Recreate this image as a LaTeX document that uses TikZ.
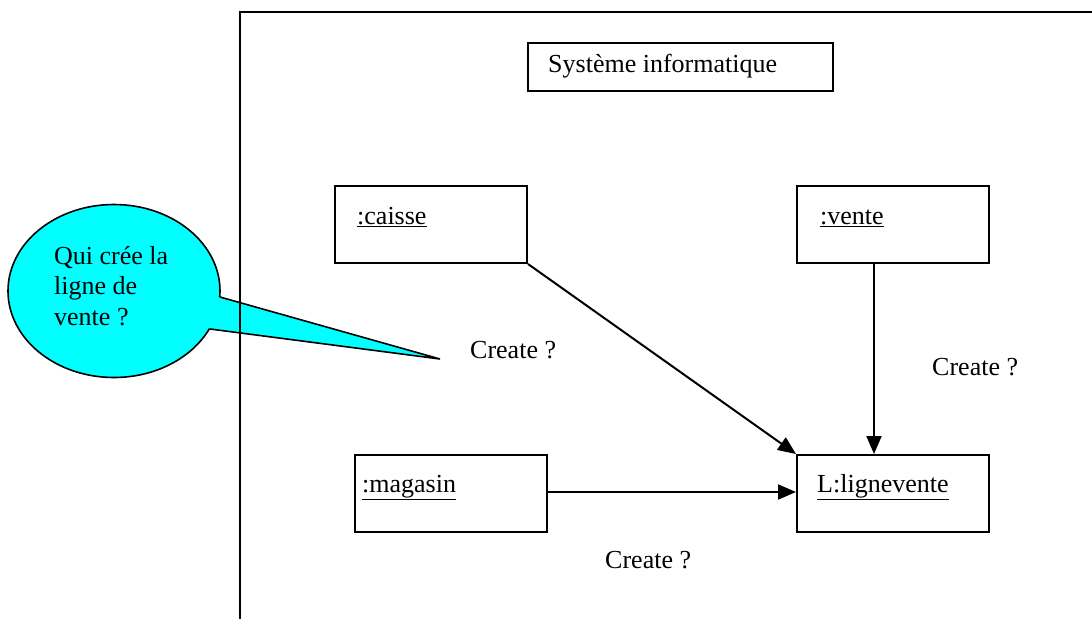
\documentclass[tikz,border=0pt]{standalone}
\usepackage{fontspec}
\setmainfont{Liberation Serif}
\usetikzlibrary{arrows.meta,shapes.geometric}
\definecolor{bubblecyan}{RGB}{0,255,255}
\begin{document}
\begin{tikzpicture}[x=1pt,y=-1pt,
  txt/.style={inner sep=0pt,font=\fontsize{26}{30.5}\selectfont},
  lbl/.style={txt,anchor=base west},
  obj/.style={draw,line width=2pt,minimum width=192pt,minimum height=77pt,inner sep=0pt},
  arr/.style={line width=2pt,-{Triangle[length=18pt,width=15pt]}},
  frame/.style={line width=2pt}]
\useasboundingbox (0,0) rectangle (1092,619);
% frame
\coordinate (fbl) at (240,619);
\coordinate (ftl) at (240,12);
\coordinate (ftr) at (1092,12);
% callout
\node[ellipse,draw,fill=bubblecyan,line width=1.6pt,minimum width=212pt,minimum height=173pt,inner sep=0pt] (bubble) at (114,291) {};
\coordinate (t1) at (220,297);
\coordinate (tip) at (440,359);
\coordinate (t2) at (210,329);
\fill[bubblecyan] (t1) -- (tip) -- (t2) -- (195,313) -- cycle;
\draw[line width=1.6pt,line join=miter] (t1) -- (tip) -- (t2);
\node[txt,anchor=north west,align=left] (q) at (54,246) {Qui crée la\\ligne de\\vente ?};
\draw[frame] (fbl) -- (ftl) -- (ftr);
% title
\node[draw,line width=2pt,minimum width=305pt,minimum height=48pt,inner sep=0pt] (sys) at (680.5,67) {};
\node[lbl] (syst) at (548,72) {Système informatique};
% objects
\node[obj] (caisse) at (431,224.5) {};
\node[lbl] (caisset) at (357,224) {\underline{:caisse}};
\node[obj] (vente) at (893,224.5) {};
\node[lbl] (ventet) at (820,224) {\underline{:vente}};
\node[obj] (magasin) at (451,493.5) {};
\node[lbl] (magasint) at (362,492) {\underline{:magasin}};
\node[obj] (ligne) at (893,493.5) {};
\node[lbl] (lignet) at (817,492) {\underline{L:lignevente}};
% connectors
\draw[arr] (caisse.south east) -- (ligne.north west);
\draw[arr] ([xshift=-19pt]vente.south) -- ([xshift=-19pt]ligne.north);
\draw[arr] (magasin.east |- 0,492) -- (ligne.west |- 0,492);
% labels
\node[lbl] (c1) at (470,358) {Create ?};
\node[lbl] (c2) at (932,375) {Create ?};
\node[lbl] (c3) at (605,568) {Create ?};
\end{tikzpicture}
\end{document}
